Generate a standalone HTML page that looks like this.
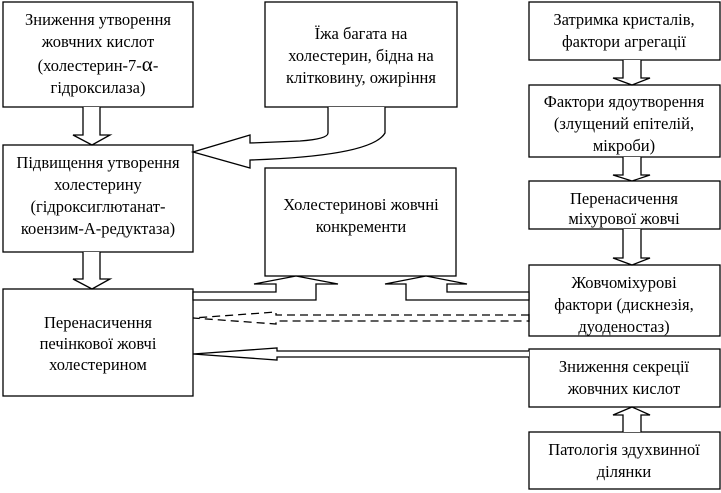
<!DOCTYPE html>
<html><head><meta charset="utf-8"><style>
html,body{margin:0;padding:0;background:#fff;}
svg{display:block;}
text{font-family:"Liberation Serif","DejaVu Serif",serif;font-size:16.5px;fill:#000;text-anchor:middle;}
</style></head><body>
<svg width="721" height="493" viewBox="0 0 721 493" xmlns="http://www.w3.org/2000/svg">
<g fill="#fff" stroke="#000" stroke-width="1.3">
<rect x="3" y="2" width="190" height="105"/>
<rect x="265" y="2" width="192" height="105"/>
<rect x="529" y="2" width="191" height="58"/>
<rect x="529" y="85" width="191" height="72"/>
<rect x="529" y="181" width="191" height="48"/>
<rect x="529" y="265" width="191" height="71"/>
<rect x="529" y="349" width="191" height="58"/>
<rect x="529" y="432" width="191" height="57"/>
<rect x="3" y="145" width="190" height="107"/>
<rect x="265" y="168" width="191" height="108"/>
<rect x="3" y="289" width="190" height="107"/>
<path d="M83,107 L83,135 L73,135 L92,145 L110,135 L100,135 L100,107"/>
<path d="M83,252 L83,279 L73,279 L92,289 L110,279 L100,279 L100,252"/>
<path d="M623,60 L623,78 L613,78 L632,85 L650,78 L641,78 L641,60"/>
<path d="M623,157 L623,175 L613,175 L632,181 L650,175 L641,175 L641,157"/>
<path d="M623,229 L623,258 L613,258 L632,265 L650,258 L641,258 L641,229"/>
<path d="M623,432 L623,415 L613,415 L632,407 L650,415 L641,415 L641,432"/>
<path d="M328,107 L328,133 Q328,139 300,141 L250,143 L250,135 L193,152 L250,168 L250,160 Q372,156 385,133 L385,107"/>
<path d="M193,300 L193,292 L276,292 L276,284 L254,284 L296,276 L338,284 L316,284 L316,300 Z"/>
<path d="M529,300 L529,292 L447,292 L447,284 L467,284 L426,276 L385,284 L406,284 L406,300 Z"/>
<path d="M529,351 L277,351 L277,348 L193,354 L277,360 L277,357 L529,357"/>
</g>
<path d="M529,315 L276,315 L276,312 L193,318 L276,324 L276,321 L529,321" fill="none" stroke="#000" stroke-width="1.3" stroke-dasharray="8,5"/>
<line x1="529" y1="314" x2="529" y2="322" stroke="#000" stroke-width="1.3"/>
<text x="98" y="25">Зниження утворення</text>
<text x="98" y="47">жовчних кислот</text>
<text x="98" y="71">(холестерин-7-<tspan font-size="21">α</tspan>-</text>
<text x="98" y="93">гідроксилаза)</text>
<text x="361" y="39">Їжа багата на</text>
<text x="361" y="61">холестерин, бідна на</text>
<text x="361" y="83">клітковину, ожиріння</text>
<text x="624" y="25">Затримка кристалів,</text>
<text x="624" y="47">фактори агрегації</text>
<text x="624" y="107">Фактори ядоутворення</text>
<text x="624" y="129">(злущений епітелій,</text>
<text x="624" y="151">мікроби)</text>
<text x="624" y="204">Перенасичення</text>
<text x="624" y="224">міхурової жовчі</text>
<text x="624" y="288">Жовчоміхурові</text>
<text x="624" y="310">фактори (дискнезія,</text>
<text x="624" y="332">дуоденостаз)</text>
<text x="624" y="372">Зниження секреції</text>
<text x="624" y="394">жовчних кислот</text>
<text x="624" y="455">Патологія здухвинної</text>
<text x="624" y="477">ділянки</text>
<text x="98" y="168">Підвищення утворення</text>
<text x="98" y="190">холестерину</text>
<text x="98" y="212">(гідроксиглютанат-</text>
<text x="98" y="234">коензим-А-редуктаза)</text>
<text x="361" y="210">Холестеринові жовчні</text>
<text x="361" y="232">конкременти</text>
<text x="98" y="328">Перенасичення</text>
<text x="98" y="349">печінкової жовчі</text>
<text x="98" y="370">холестерином</text>
</svg>
</body></html>
